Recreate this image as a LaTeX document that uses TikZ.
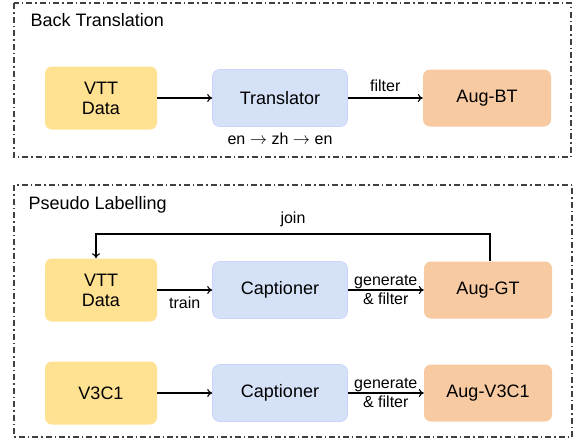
\documentclass[tikz,border=0pt]{standalone}
\usepackage{fontspec}
\setmainfont{Liberation Sans}
\usetikzlibrary{arrows.meta,positioning}
\definecolor{datay}{RGB}{255,226,145}
\definecolor{modelb}{RGB}{212,225,247}
\definecolor{augo}{RGB}{248,202,162}

\begin{document}
\begin{tikzpicture}[
  x=1pt,y=1pt,
  font=\fontsize{18}{20}\selectfont,
  node distance=55pt,
  data/.style={fill=datay,rounded corners=7pt,minimum width=112pt,minimum height=63pt,align=center,inner sep=2pt},
  model/.style={fill=modelb,draw=modelb!80!blue!60,line width=0.6pt,rounded corners=7pt,minimum width=135pt,minimum height=57pt,align=center},
  aug/.style={fill=augo,rounded corners=7pt,minimum width=128pt,minimum height=57pt,align=center},
  frame/.style={draw=black!75,line width=1.1pt,dash pattern=on 6pt off 3pt on 1.5pt off 3pt},
  lbl/.style={font=\fontsize{16}{19}\selectfont},
  ar/.style={-{To[length=5pt,width=8pt]},line width=1.1pt}
]
\useasboundingbox (0,0) rectangle (575,-439);

% back translation
\draw[frame] (14,-3) rectangle (571,-157);
\node[anchor=west] (bttitle) at (27,-20) {Back Translation};
\node[data] (vtt1) at (101,-98) {VTT\\Data};
\node[model,right=of vtt1] (trans) {Translator};
\node[aug,right=75pt of trans] (augbt) {Aug-BT};
\node[lbl,below=3pt of trans] (langs) {en $\rightarrow$ zh $\rightarrow$ en};

\draw[ar] (vtt1) -- (trans);
\draw[ar] (trans) -- node[lbl,above=2pt] (filt) {filter} (augbt);

% pseudo labelling
\draw[frame] (14,-185) rectangle (572,-437);
\node[anchor=west] (pltitle) at (25,-205) {Pseudo Labelling};
\node[data] (vtt2) at (101,-290) {VTT\\Data};
\node[model,right=of vtt2] (cap1) {Captioner};
\node[aug,right=76pt of cap1] (auggt) {Aug-GT};

\node[data] (v3c1) at (101,-393) {V3C1};
\node[model,right=of v3c1] (cap2) {Captioner};
\node[aug,right=76pt of cap2] (augv) {Aug-V3C1};

\coordinate (joinlvl) at (0,-234);
\draw[ar] (vtt2) -- node[lbl,below=3pt] (trn) {train} (cap1);
\draw[ar] (v3c1) -- (cap2);
\draw[ar] (cap1) -- node[lbl,inner sep=0pt,align=center] (gf1) {generate\\\& filter} (auggt);
\draw[ar] (cap2) -- node[lbl,inner sep=0pt,align=center] (gf2) {generate\\\& filter} (augv);
\draw[ar] ([xshift=2pt]auggt.north) |- node[lbl,pos=0.75,above=3pt] (jn) {join} ([xshift=-5pt]vtt2.north |- joinlvl) -- ([xshift=-5pt]vtt2.north);
\end{tikzpicture}
\end{document}
